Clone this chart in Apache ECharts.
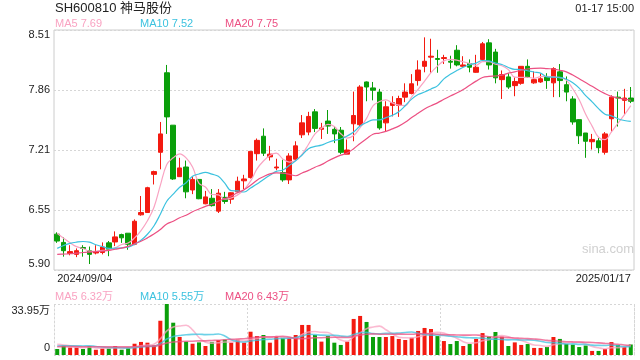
<!DOCTYPE html>
<html><head><meta charset="utf-8">
<script src="https://cdn.jsdelivr.net/npm/echarts@6/dist/echarts.min.js"></script>
<style>html,body{margin:0;padding:0;background:#fff}#c{width:640px;height:360px}</style>
</head><body><div id="c"></div>
<script>
const titleText = 'SH600810 神马股份';
const timeText = '01-17 15:00';
const watermark = 'sina.com';

// trading days (categories)
const sepDays = [4,5,6,9,10,11,12,13,18,19,20,23,24,25,26,27,30];
const octDays = [8,9,10,11,14,15,16,17,18,21,22,23,24,25,28,29,30,31];
const novDays = [1,4,5,6,7,8,11,12,13,14,15,18,19,20,21,22,25,26,27,28,29];
const decDays = [2,3,4,5,6,9,10,11,12,13,16,17,18,19,20,23,24,25,26,27,30,31];
const janDays = [2,3,6,7,8,9,10,13,14,15,16,17];

// OHLC
const opens = [6.29,6.20,6.08,6.07,6.145,6.11,6.085,6.09,6.195,6.205,
6.285,6.30,6.18,6.50,6.525,6.94,7.18,8.045,7.475,6.915,
7.02,6.77,6.885,6.62,6.68,6.54,6.69,6.67,6.75,6.87,
6.905,7.165,7.355,7.13,7.01,6.96,6.88,7.105,7.37,7.40,
7.62,7.43,7.52,7.43,7.42,7.16,7.49,7.48,7.945,7.88,
7.835,7.50,7.69,7.69,7.78,7.82,7.96,8.115,8.215,8.20,
8.20,8.17,8.29,8.115,8.145,8.05,8.19,8.37,8.27,7.97,
8.00,7.905,7.93,8.115,7.935,7.945,8.00,7.935,8.055,7.915,
7.76,7.535,7.39,7.295,7.305,7.18,7.545,7.78,7.745,7.77];
const closes = [6.215,6.11,6.10,6.11,6.135,6.07,6.10,6.15,6.125,6.26,
6.25,6.18,6.43,6.525,6.795,6.97,7.38,7.565,6.89,7.01,
6.75,6.885,6.675,6.695,6.60,6.735,6.645,6.74,6.865,6.89,
7.19,7.31,7.17,7.16,7.02,6.88,7.14,7.25,7.50,7.57,
7.44,7.445,7.465,7.38,7.18,7.205,7.58,7.89,7.89,7.855,
7.445,7.675,7.72,7.765,7.835,7.925,8.075,8.17,8.225,8.19,
8.21,8.16,8.13,8.13,8.105,8.105,8.36,8.13,7.99,8.025,
7.89,7.95,8.115,8.00,7.97,7.98,7.96,8.09,7.96,7.835,
7.51,7.36,7.30,7.32,7.23,7.38,7.78,7.77,7.77,7.735];
const lows = [6.195,6.045,6.06,6.04,6.045,5.965,6.07,6.07,6.05,6.16,
6.195,6.12,6.17,6.49,6.52,6.83,6.995,7.38,6.88,6.915,
6.68,6.725,6.67,6.615,6.59,6.52,6.62,6.62,6.735,6.78,
6.895,7.09,7.14,7.09,6.985,6.86,6.835,7.09,7.335,7.365,
7.40,7.325,7.38,7.28,7.16,7.16,7.30,7.455,7.735,7.745,
7.425,7.41,7.57,7.565,7.725,7.81,7.905,8.05,8.045,8.045,
8.14,8.09,8.115,8.11,8.05,8.045,8.18,8.08,7.93,7.76,
7.87,7.79,7.915,7.99,7.925,7.935,7.87,7.78,7.78,7.735,
7.48,7.27,7.12,7.21,7.17,7.155,7.40,7.46,7.59,7.715];
const highs = [6.31,6.255,6.17,6.135,6.17,6.155,6.17,6.20,6.215,6.32,
6.295,6.30,6.45,6.705,6.805,6.98,7.51,8.13,7.475,7.12,
7.09,6.915,6.885,6.76,6.78,6.78,6.75,6.745,6.915,6.935,
7.19,7.33,7.44,7.25,7.11,7.10,7.17,7.30,7.585,7.62,
7.65,7.50,7.64,7.46,7.455,7.32,7.84,7.91,7.95,7.945,
7.87,7.735,7.79,7.795,7.93,8.03,8.18,8.43,8.415,8.295,
8.24,8.23,8.345,8.225,8.19,8.24,8.38,8.41,8.305,8.07,
8.04,7.995,8.115,8.19,8.06,8.04,8.04,8.105,8.14,8.005,
7.79,7.54,7.39,7.38,7.335,7.40,7.80,7.84,7.87,7.89];
// closes before the visible window (for moving averages)
const priorCloses = [6.05,6.02,5.98,6.00,5.97,6.01,6.03,5.99,6.00,6.00,5.80,5.86,5.98,6.065,6.145,6.385,6.345,6.32,6.235];

// volume in 万
const volumes = [4.0,6.2,4.9,4.9,4.0,6.0,3.5,4.4,4.4,6.0,
3.5,4.9,7.5,8.7,8.2,6.4,22.8,33.95,21.5,12.0,
8.9,7.5,8.4,6.0,8.7,10.0,10.2,8.2,10.2,8.2,
15.5,12.6,13.3,8.2,12.2,11.5,11.5,13.3,20.0,20.0,
13.3,8.9,12.6,8.2,6.7,8.9,24.0,26.0,22.0,12.0,
12.0,12.0,12.6,10.7,10.0,11.5,16.0,18.0,17.3,12.6,
9.3,7.3,9.3,6.0,7.3,10.7,14.6,12.2,15.3,12.2,
6.0,8.4,6.7,7.3,4.7,4.7,5.3,12.0,10.7,7.3,
6.9,5.3,6.3,2.7,2.7,4.0,8.6,6.7,5.3,7.0];
const priorVolumes = [5.2,4.8,5.1,4.9,5.3,4.7,5.0,5.2,4.9,4.9,4.6,5.2,4.8,5.0,4.9,8.3,7.6,8.1,7.5];

const priceTickLabels = ['5.90','6.55','7.21','7.86','8.51'];
const volTickLabels = ['0','33.95万'];
const maPeriods = [5,10,20];

const RED = '#f31a10', GREEN = '#0a9f0a';
const MA_COLORS = ['#f9a3c2','#3cc2df','#ec5083'];

const pad = n => (n < 10 ? '0' : '') + n;
const dates = [].concat(
  sepDays.map(d => '2024/09/' + pad(d)),
  octDays.map(d => '2024/10/' + pad(d)),
  novDays.map(d => '2024/11/' + pad(d)),
  decDays.map(d => '2024/12/' + pad(d)),
  janDays.map(d => '2025/01/' + pad(d))
);
const N = dates.length;
const base = parseFloat(priceTickLabels[0]);
const pmax = parseFloat(priceTickLabels[priceTickLabels.length - 1]);
const pint = (pmax - base) / (priceTickLabels.length - 1);
const vmax = parseFloat(volTickLabels[1]);

function movingAvg(prior, vals, n) {
  const all = prior.concat(vals), off = prior.length, out = [];
  for (let i = 0; i < vals.length; i++) {
    let s = 0;
    for (let k = off + i - n + 1; k <= off + i; k++) s += all[k];
    out.push(s / n);
  }
  return out;
}
const priceMA = maPeriods.map(n => movingAvg(priorCloses, closes, n));
const volMA = maPeriods.map(n => movingAvg(priorVolumes, volumes, n));

const candleData = opens.map((o, i) => [o - base, closes[i] - base, lows[i] - base, highs[i] - base]);
const volData = volumes.map((v, i) => ({ value: v, itemStyle: { color: closes[i] >= opens[i] ? RED : GREEN } }));

const FONT = '"Liberation Sans", Arial, "Noto Sans CJK SC", sans-serif';
const chart = echarts.init(document.getElementById('c'), null, { renderer: 'canvas' });

const series = [{
  type: 'candlestick', xAxisIndex: 0, yAxisIndex: 0, data: candleData, barWidth: 5,
  itemStyle: { color: RED, color0: GREEN, borderColor: RED, borderColor0: GREEN, borderWidth: 1 }
}];
maPeriods.forEach((n, k) => {
  series.push({ type: 'line', xAxisIndex: 0, yAxisIndex: 0, data: priceMA[k].map(v => v - base),
    showSymbol: false, smooth: 0.4, lineStyle: { width: 1.2, color: MA_COLORS[k] }, silent: true });
});
series.push({ type: 'bar', xAxisIndex: 1, yAxisIndex: 1, data: volData, barWidth: 4 });
maPeriods.forEach((n, k) => {
  series.push({ type: 'line', xAxisIndex: 1, yAxisIndex: 1, data: volMA[k],
    showSymbol: false, smooth: 0.4, lineStyle: { width: 1.6, color: MA_COLORS[k], opacity: 0.75 }, silent: true });
});

const legendX = [55, 140, 225];
const graphics = [
  { type: 'text', left: 55, top: 2, style: { text: titleText, font: '13px ' + FONT, fill: '#222' } },
  { type: 'text', right: 6, top: 3, style: { text: timeText, font: '11px ' + FONT, fill: '#222' } },
  { type: 'text', left: 582, top: 243, style: { text: watermark, font: '13px ' + FONT, fill: '#d0d0d0' } }
];
maPeriods.forEach((n, k) => {
  graphics.push({ type: 'text', left: legendX[k], top: 18,
    style: { text: 'MA' + n + ' ' + priceMA[k][N - 1].toFixed(2), font: '11px ' + FONT, fill: MA_COLORS[k] } });
  graphics.push({ type: 'text', left: legendX[k], top: 291,
    style: { text: 'MA' + n + ' ' + volMA[k][N - 1].toFixed(2) + '万', font: '11px ' + FONT, fill: MA_COLORS[k] } });
});

const dotted = { color: '#d6d6d6', type: [2, 2], width: 1 };
const labelRich = {
  t: { fontSize: 11, color: '#222', fontFamily: FONT, padding: [10, 0, 0, 0] },
  b: { fontSize: 11, color: '#222', fontFamily: FONT, padding: [0, 0, 13, 0] }
};
const volRich = {
  t: { fontSize: 11, color: '#222', fontFamily: FONT, padding: [14, 0, 0, 0] },
  b: { fontSize: 11, color: '#222', fontFamily: FONT, padding: [0, 0, 14, 0] }
};

chart.setOption({
  animation: false,
  backgroundColor: '#fff',
  textStyle: { fontFamily: FONT },
  grid: [
    { left: 54, right: 6, top: 30, height: 240, show: true, borderColor: '#cccccc', borderWidth: 1, backgroundColor: 'transparent' },
    { left: 54, right: 6, top: 304, height: 51 }
  ],
  xAxis: [
    { type: 'category', gridIndex: 0, data: dates, boundaryGap: true,
      axisLine: { show: false }, axisTick: { show: false }, splitLine: { show: false },
      axisLabel: { interval: (i) => i === 0 || i === N - 1, margin: 3, fontSize: 11, color: '#222',
        fontFamily: FONT, alignMinLabel: 'left', alignMaxLabel: 'right', showMinLabel: true, showMaxLabel: true } },
    { type: 'category', gridIndex: 1, data: dates, boundaryGap: true,
      axisLine: { show: false }, axisTick: { show: false }, axisLabel: { show: false },
      splitLine: { show: true, interval: (i) => i === 30 || i === 60, lineStyle: dotted } }
  ],
  yAxis: [
    { type: 'value', gridIndex: 0, min: 0, max: pmax - base, interval: pint, scale: false,
      axisLine: { show: false }, axisTick: { show: false },
      splitLine: { show: true, lineStyle: dotted },
      axisLabel: { margin: 4, fontSize: 11, color: '#222', rich: labelRich,
        formatter: (v) => {
          const idx = Math.round(v / pint);
          const s = priceTickLabels[idx];
          if (idx === 0) return '{b|' + s + '}';
          if (idx === priceTickLabels.length - 1) return '{t|' + s + '}';
          return s;
        } } },
    { type: 'value', gridIndex: 1, min: 0, max: vmax, interval: vmax,
      axisLine: { show: true, lineStyle: dotted }, axisTick: { show: false },
      splitLine: { show: true, lineStyle: dotted },
      axisLabel: { margin: 4, fontSize: 11, color: '#222', rich: volRich,
        formatter: (v) => {
          const idx = Math.round(v / vmax);
          return idx === 0 ? '{b|' + volTickLabels[0] + '}' : '{t|' + volTickLabels[1] + '}';
        } } },
    { type: 'value', gridIndex: 1, min: 0, max: vmax, position: 'right',
      axisLine: { show: true, lineStyle: dotted }, axisTick: { show: false },
      axisLabel: { show: false }, splitLine: { show: false } }
  ],
  series: series,
  graphic: graphics
});
</script>
</body></html>
